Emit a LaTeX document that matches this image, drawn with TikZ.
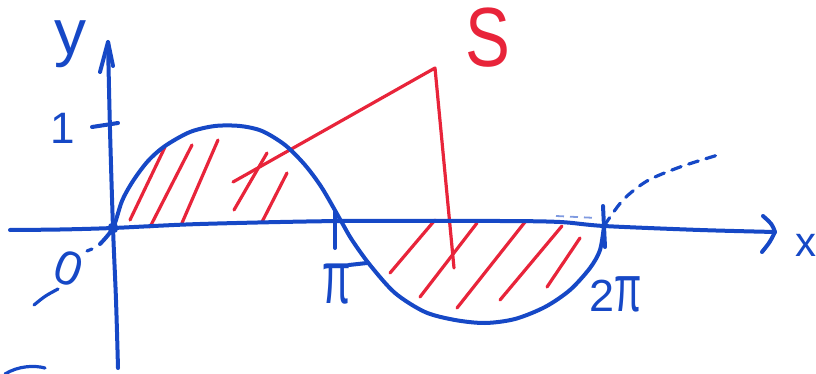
\documentclass[tikz,border=0pt]{standalone}
\usepackage{fontspec}
\setmainfont{Liberation Sans}
\definecolor{pen}{RGB}{22,72,198}
\definecolor{redpen}{RGB}{232,36,58}
\begin{document}
\begin{tikzpicture}[x=1pt,y=-1pt,
  blue line/.style={draw=pen,line width=4pt,line cap=round,line join=round},
  red line/.style={draw=redpen,line width=3.2pt,line cap=round,line join=round},
  label/.style={text=pen,inner sep=0pt,outer sep=0pt},
  redlabel/.style={text=redpen,inner sep=0pt,outer sep=0pt}]
\useasboundingbox (0,0) rectangle (816,374);

% coordinates
\coordinate (O) at (113,228);
\coordinate (xl) at (10,230);
\coordinate (xr) at (775,232);
\coordinate (yb) at (118,368);
\coordinate (yt) at (108,42);
\coordinate (P) at (341,221);
\coordinate (TP) at (604,226);
\coordinate (Stop) at (435,68);
\coordinate (Sleft) at (233,182);
\coordinate (Sbot) at (454,268);

% red hatching (under the curve)
\draw[red line] (130,220) -- (165,147);
\draw[red line] (150,227) -- (192,145);
\draw[red line] (182,223) -- (218,140);
\draw[red line] (234,210) -- (267,153);
\draw[red line] (262,222) -- (287,173);
\draw[red line] (390,273) -- (435,220);
\draw[red line] (420,297) -- (477,223);
\draw[red line] (457,308) -- (525,222);
\draw[red line] (500,300) -- (562,226);
\draw[red line] (547,287) -- (580,238);
% S pointer
\draw[red line] (Sleft) -- (Stop) -- (Sbot);
\node[redlabel] (S) at (488,38) {\scalebox{0.8}[1]{\fontsize{84}{84}\selectfont S}};

% axes
\draw[blue line] plot[smooth] coordinates {(xl) (60,229.5) (O) (200,224) (P) (500,221) (560,222) (TP) (700,230) (xr)};
\draw[blue line] (763,216) .. controls (772,224) .. (xr) .. controls (770,242) .. (762,252);
\draw[blue line] plot[smooth] coordinates {(yb) (116,300) (O) (110,130) (yt)};
\draw[blue line] (100,72) -- (yt) -- (113,66);

% ticks
\draw[blue line] (92,127) -- (118,123);
\draw[blue line] (335,212) -- (335,248);
\draw[blue line] (603,206) -- (605,247);

% sine curve
\draw[blue line] plot[smooth] coordinates {(100,244) (O) (122,201) (133,181) (148,161) (165,146) (190,132) (215,126) (240,126) (262,131) (285,145) (305,165) (322,188) (P) (352,240) (370,265) (395,293) (425,312) (455,320) (485,323) (515,319) (545,307) (570,290) (590,268) (600,250) (TP)};
\fill[pen] (O) circle (5.5);

% dashed continuations
\draw[blue line,line width=3.2pt,dash pattern=on 10pt off 8pt] plot[smooth] coordinates {(TP) (623,200) (647,181) (680,167) (718,155)};
\draw[draw=pen!55,line width=1.8pt,dash pattern=on 8pt off 6pt] (556,216) -- (597,218);
\draw[blue line,line width=3.2pt] (87,251) -- (92,249);
\draw[blue line,line width=3.2pt] (34,305) .. controls (45,296) .. (58,289);
\draw[blue line,line width=3.2pt] (5,374) .. controls (18,366) and (34,365) .. (45,368);
\draw[blue line] (349,265) -- (367,263);

% labels
\node[label] (ylab) at (70,44) {\fontsize{64}{64}\selectfont y};
\node[label] (one) at (63,128) {\fontsize{44}{44}\selectfont 1};
\node[label,rotate=-20] (zero) at (69,269) {\fontsize{48}{48}\selectfont 0};
\node[label] (xlab) at (806,245) {\fontsize{42}{42}\selectfont x};
\node[label] (pi) at (337,284) {\scalebox{0.55}[1]{\fontsize{75}{75}\selectfont π}};
\node[label] (twopi) at (616,294) {\fontsize{45}{45}\selectfont 2\scalebox{0.6}[1]{\fontsize{66}{66}\selectfont π}};
\end{tikzpicture}
\end{document}
